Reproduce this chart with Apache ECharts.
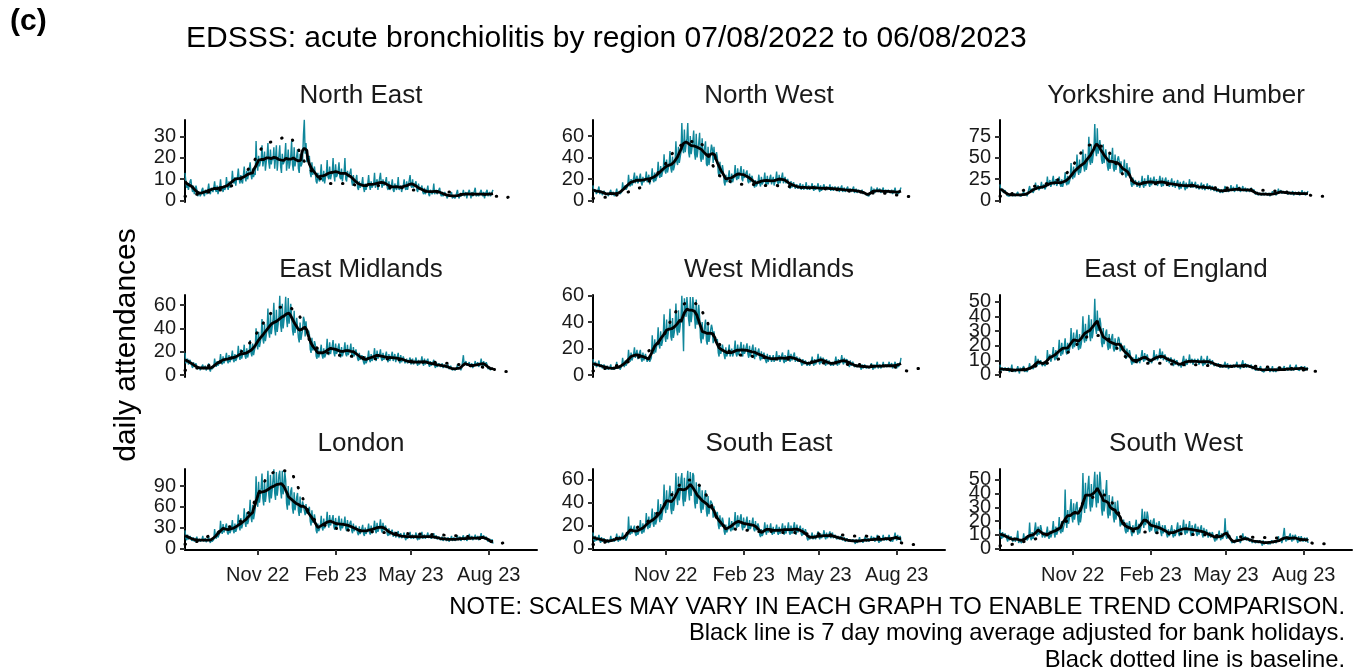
<!DOCTYPE html>
<html><head><meta charset="utf-8">
<script src="https://cdn.jsdelivr.net/npm/echarts@6/dist/echarts.min.js"></script>
<style>html,body{margin:0;padding:0;background:#fff}#c{width:1354px;height:669px}</style>
</head><body><div id="c"></div>
<script>
// ---------------- DATA ----------------
const regions = ['North East','North West','Yorkshire and Humber','East Midlands','West Midlands','East of England','London','South East','South West'];
const startDate = '2022-08-07';           // first daily value; baseline values are weekly from the same date
const tickDates = ['2022-11-01','2023-02-01','2023-05-01','2023-08-01'];
const tickLabels = ['Nov 22','Feb 23','May 23','Aug 23'];

const northEast = [13,9,6,8,5,7,9,10,6,4,7,3,5,7,5,2,3,4,2,3,5,6,3,2,5,4,3,5,
8,4,3,6,5,4,6,9,5,4,7,3,5,6,10,5,6,4,7,5,6,11,7,5,9,6,7,8,
14,9,8,11,7,10,11,15,10,8,12,9,8,12,16,11,9,14,10,12,12,18,12,10,15,11,13,12,
28,17,14,21,16,18,19,26,16,19,23,14,18,21,27,18,15,24,17,20,19,25,15,20,26,14,19,21,
26,16,13,22,17,18,21,27,14,18,24,15,17,21,28,17,14,25,16,19,21,24,15,13,22,16,17,19,
31,38,22,27,18,20,19,21,13,11,18,12,14,16,16,9,8,13,10,9,12,17,10,9,14,8,11,12,
19,11,10,16,10,12,13,20,12,9,17,11,12,14,18,11,10,15,9,12,13,20,10,9,14,11,11,13,
15,9,7,12,8,9,10,12,6,5,9,6,7,8,11,6,4,8,5,7,8,12,7,5,9,6,6,8,
13,6,6,10,5,8,8,13,8,6,10,7,7,9,11,6,5,9,5,6,7,10,5,4,8,6,5,7,
11,5,5,7,4,6,7,10,6,5,9,5,7,7,12,7,6,10,6,7,8,9,5,4,8,5,5,6,
7,4,3,6,3,4,5,7,3,2,5,4,3,4,8,3,4,5,3,4,5,6,3,2,4,2,3,4,
4,2,1,3,2,2,3,4,1,2,2,1,2,2,5,2,1,3,2,2,3,5,2,3,4,1,3,3,
5,3,1,4,2,3,3,6,2,2,3,2,3,3,5,3,2,4,1,3,3,5,2,2,4,2,3,3,5];

const northWest = [14,8,7,10,6,8,10,13,6,7,9,5,7,9,9,5,4,7,4,6,7,10,5,6,8,4,5,7,
11,6,5,8,6,5,8,17,10,9,14,10,11,13,24,15,13,20,14,16,17,26,16,15,23,16,18,19,
25,17,14,22,17,18,20,27,17,16,24,15,19,22,30,19,17,26,18,21,23,36,24,21,32,22,26,28,
43,28,25,38,26,30,34,46,30,26,41,28,31,36,55,36,33,50,35,40,45,72,48,44,66,45,52,58,
72,45,40,60,43,49,55,65,44,38,62,40,47,54,63,40,36,58,38,44,50,55,34,32,50,33,38,45,
52,48,35,50,38,40,45,40,26,22,36,25,28,33,27,17,14,24,17,19,22,28,18,16,25,17,20,23,
33,22,19,30,20,24,27,32,20,18,29,21,22,26,28,18,16,25,17,20,23,22,14,12,19,13,15,17,
24,16,13,22,15,17,19,26,16,14,23,15,18,21,24,15,14,22,14,17,20,27,17,15,24,16,19,22,
26,16,15,22,16,18,20,20,13,11,18,12,14,17,18,11,10,15,11,12,14,16,10,9,15,10,11,13,
17,10,9,14,10,11,13,16,11,9,14,10,11,13,16,10,8,14,9,11,12,15,10,9,13,10,11,12,
15,9,8,13,9,10,13,14,9,8,13,8,10,12,14,8,7,12,8,10,11,13,8,7,11,8,9,11,
13,7,7,11,7,8,10,11,7,6,10,6,8,8,8,5,4,6,4,5,7,13,8,6,11,7,8,10,
12,8,7,11,7,8,10,12,7,6,10,7,8,10,11,7,6,10,6,7,9,12,7,5,9,6,7,10,12];

const yorkshireHumber = [19,11,9,14,9,10,12,11,6,5,8,5,6,8,10,5,5,8,5,6,7,10,6,4,8,5,5,8,
11,6,5,9,5,6,7,17,11,9,14,9,11,13,21,13,11,18,12,14,16,22,14,12,19,13,15,17,
28,17,15,24,16,19,21,29,18,16,25,17,20,22,28,19,16,25,16,20,23,33,21,18,29,19,22,26,
44,29,25,40,27,31,35,54,35,30,48,32,38,43,60,40,34,55,36,42,48,75,47,42,66,44,52,59,
90,60,52,85,55,63,71,72,48,43,66,44,52,60,60,40,35,56,37,44,50,62,38,34,54,36,42,49,
52,45,32,46,33,35,37,48,31,27,44,29,34,39,30,19,16,27,18,20,24,26,16,14,23,15,18,21,
29,18,15,26,17,19,23,30,19,16,27,18,20,24,28,18,16,25,17,20,23,29,20,16,27,17,21,24,
27,17,15,24,16,19,22,26,16,14,23,15,18,21,24,16,13,22,14,17,20,23,15,12,21,14,16,18,
25,15,13,22,15,17,19,22,14,12,19,13,15,17,21,13,12,19,12,14,17,20,13,11,18,12,14,17,
18,11,10,16,10,12,14,15,9,8,13,9,10,13,17,10,9,14,10,11,13,18,11,10,16,10,12,14,
19,11,9,16,10,12,14,17,11,9,15,10,12,14,16,10,9,15,10,11,13,11,7,6,10,6,7,9,
11,6,5,9,6,7,9,10,6,5,9,5,6,8,11,7,6,10,6,7,9,14,9,7,12,8,9,11,
13,8,6,11,7,8,10,12,7,6,11,6,8,10,11,7,6,10,6,7,9,12,7,5,10,6,7,9,11];

const eastMidlands = [19,10,9,14,9,10,13,14,8,6,11,7,7,10,9,5,4,7,4,6,7,9,5,4,8,4,5,7,
10,5,3,7,5,5,7,14,9,7,12,8,9,11,18,11,9,16,10,12,15,19,12,10,17,11,13,16,
21,13,11,18,12,14,16,25,16,13,22,14,17,19,26,16,14,23,15,18,21,30,19,16,27,17,21,24,
40,26,22,37,24,28,33,48,31,27,44,29,34,39,57,37,32,52,35,41,47,62,40,34,56,37,43,50,
68,43,37,61,40,47,54,67,48,41,66,44,51,61,60,39,34,55,36,42,49,50,32,28,45,30,35,39,
50,47,33,46,36,37,38,35,22,19,32,21,24,29,26,16,14,23,15,18,21,26,17,14,23,15,17,21,
31,20,17,28,18,22,25,30,19,16,27,18,20,24,27,17,15,24,16,19,22,28,18,16,26,17,20,22,
27,17,15,24,16,19,22,22,14,12,19,13,15,17,18,11,9,16,10,12,15,21,13,11,18,12,14,16,
23,15,12,21,14,16,18,22,14,12,19,13,15,17,20,13,11,18,12,14,17,20,12,11,18,11,14,16,
19,12,10,17,11,13,16,17,10,9,14,10,11,13,15,9,8,14,9,10,12,15,10,8,13,9,10,12,
16,10,8,14,9,11,12,14,9,7,12,8,9,11,13,8,6,11,7,8,10,11,7,6,10,6,7,9,
10,6,5,9,5,6,8,7,4,3,6,4,5,6,9,5,4,7,4,6,7,17,8,7,12,8,9,9,
11,7,6,10,6,7,9,12,8,7,11,7,8,10,14,9,7,12,8,9,11,9,5,4,7,4,6,7,5];

const westMidlands = [12,7,6,10,6,7,8,11,6,5,8,5,6,8,9,4,4,7,4,5,6,8,4,3,6,4,4,6,
10,5,4,7,4,5,7,13,8,6,11,7,8,10,19,12,10,17,11,13,16,21,13,12,19,12,14,17,
19,12,10,17,11,13,16,17,10,9,14,10,11,13,30,19,16,27,17,21,24,36,23,20,33,22,25,30,
46,29,25,42,27,32,37,50,29,26,43,28,32,37,54,34,30,49,32,37,44,60,40,18,58,50,44,59,
60,42,37,59,40,46,59,58,44,35,57,38,44,53,44,28,24,40,27,31,37,42,26,23,38,25,29,34,
38,35,24,33,26,27,27,27,17,14,24,16,19,23,23,15,12,21,14,16,18,23,14,13,20,14,16,19,
26,16,14,23,15,18,21,25,16,14,23,16,18,21,24,16,13,22,14,17,20,23,15,12,21,14,16,18,
20,13,11,18,12,14,17,18,11,9,16,10,12,15,16,10,9,15,10,11,13,18,11,10,15,10,12,15,
17,11,9,15,10,12,14,19,12,10,16,11,12,15,17,10,9,14,10,11,13,14,9,7,12,8,9,11,
12,7,6,10,7,8,10,14,9,7,12,8,9,11,16,10,8,14,9,11,13,14,9,7,12,8,9,11,
12,7,6,10,7,8,10,14,9,7,12,8,9,11,15,10,8,13,9,10,12,13,8,6,11,7,8,10,
10,6,5,8,6,6,8,9,6,4,8,5,6,8,9,5,4,7,5,5,7,9,6,4,8,5,6,8,
10,5,5,8,5,6,7,10,6,5,8,6,6,8,10,6,5,9,5,6,8,10,7,5,9,6,7,9,13];

const eastOfEngland = [7,3,2,5,3,3,5,6,3,2,5,2,3,4,7,2,2,4,2,3,4,6,3,1,5,3,2,4,
6,2,3,4,2,3,5,8,4,3,6,4,4,6,13,8,6,11,7,8,10,11,6,5,9,6,7,8,
17,10,9,14,9,11,14,19,12,10,17,11,13,16,24,16,13,22,14,17,20,25,16,14,22,15,17,20,
32,21,18,29,19,22,27,31,20,17,28,18,21,26,40,25,22,35,23,27,31,41,27,23,38,25,29,34,
52,32,28,44,30,34,39,35,22,19,32,21,24,29,31,20,17,28,18,21,26,28,18,16,25,17,20,23,
26,24,16,22,17,18,17,20,13,11,18,12,14,17,14,9,7,12,8,9,11,14,8,7,12,8,10,11,
17,11,9,15,10,12,14,13,8,7,11,8,9,11,17,10,9,14,10,11,13,18,11,10,16,10,12,14,
15,9,8,12,8,10,12,13,8,6,11,7,8,10,10,6,5,8,5,7,8,13,8,6,11,7,8,10,
14,8,7,11,7,9,11,12,8,7,11,7,8,10,13,8,6,11,7,8,10,13,7,7,11,7,8,10,
10,6,5,8,6,6,8,9,5,4,7,5,5,7,9,5,4,8,4,5,7,8,5,4,7,5,6,7,
9,5,4,7,4,6,7,10,5,5,8,5,6,7,8,5,4,7,4,5,6,6,3,3,5,3,4,4,
6,3,2,4,2,3,5,5,3,2,5,2,3,4,6,2,3,4,2,3,5,5,3,2,5,3,2,4,
6,3,3,5,3,3,5,7,3,2,5,3,4,4,7,4,3,5,3,4,6,7,3,3,6,3,4,5,4];

const london = [26,15,12,20,13,15,18,19,11,9,16,10,12,14,17,10,9,14,10,11,13,18,10,8,15,9,11,13,
17,11,8,14,10,11,13,28,17,14,24,16,19,22,40,25,21,35,23,27,32,36,23,20,33,22,25,30,
41,26,22,36,24,28,33,49,31,26,44,29,34,39,58,37,31,52,35,40,48,70,45,38,63,42,49,57,
104,70,60,96,66,76,88,108,72,62,98,67,78,89,112,77,66,106,72,84,99,114,80,70,110,76,88,106,
112,84,72,112,78,90,110,98,65,56,90,62,71,83,88,58,50,81,55,63,74,80,54,47,75,51,59,68,
70,66,48,64,50,52,56,60,39,33,55,37,42,49,40,26,22,36,25,28,33,47,30,26,43,29,33,37,
53,35,30,48,33,38,43,48,31,27,44,30,34,38,47,30,26,43,29,33,37,46,29,25,41,28,32,37,
40,26,22,36,25,28,33,35,22,19,32,21,24,29,34,21,18,30,21,24,27,36,23,20,33,22,25,30,
40,26,22,37,24,28,33,42,27,23,37,26,29,33,33,21,18,29,19,23,25,27,17,15,24,16,19,22,
25,15,13,22,15,17,19,23,15,12,21,14,16,18,24,14,13,20,14,16,18,23,15,12,21,13,16,19,
24,14,12,20,14,16,19,23,15,13,20,14,16,18,22,14,12,19,13,15,17,19,12,10,17,11,13,16,
18,11,10,16,10,12,14,18,11,9,16,11,12,14,19,12,10,17,11,13,16,19,12,11,17,11,13,15,
21,13,11,18,12,14,16,20,13,11,18,12,14,17,22,14,12,19,13,15,17,17,10,9,14,10,11,13,7];

const southEast = [14,8,6,11,7,8,9,12,7,5,10,6,7,9,10,5,4,8,5,6,7,11,6,5,9,6,7,8,
13,8,6,11,7,8,10,14,8,7,11,7,9,11,28,14,12,20,13,16,16,20,13,11,18,12,14,17,
25,15,13,22,14,17,20,31,20,17,28,18,21,26,35,22,19,32,21,24,29,43,28,23,39,25,30,36,
56,36,31,51,34,39,47,55,35,30,50,33,38,46,66,45,38,63,42,49,61,66,44,37,62,41,48,59,
68,50,42,67,46,54,66,64,41,35,58,39,45,54,56,36,31,51,34,39,47,51,33,28,46,30,36,42,
42,39,27,37,28,29,29,32,21,17,29,19,23,27,23,15,12,21,14,16,18,27,17,15,24,16,19,22,
32,21,18,29,19,22,27,30,19,16,27,18,20,24,28,18,16,25,17,20,23,27,17,15,24,16,19,22,
19,12,10,17,11,13,16,23,15,12,21,14,16,18,22,14,12,19,13,15,17,21,14,12,19,13,15,18,
22,14,12,20,13,16,18,23,14,12,20,13,15,19,23,15,12,21,14,16,18,20,13,11,18,12,14,17,
14,9,7,12,8,9,11,14,8,7,12,8,10,11,15,10,8,13,9,10,12,16,10,8,14,9,11,12,
15,9,8,14,9,10,12,13,8,7,11,8,9,11,11,7,6,10,6,7,9,10,6,5,8,6,6,8,
9,6,4,8,5,6,7,10,6,5,8,5,7,8,11,6,5,9,6,7,8,11,7,6,10,6,7,9,
12,7,5,10,6,7,9,12,7,6,10,7,8,10,12,8,6,10,6,8,10,14,9,7,12,8,9,11,6];

const southWest = [14,9,7,12,8,9,11,12,7,5,10,6,7,9,9,5,4,8,5,6,8,13,4,3,7,4,5,6,
11,6,5,9,6,7,8,19,8,6,12,7,9,9,19,11,9,16,10,13,17,14,8,7,12,8,9,12,
16,9,7,13,8,10,14,20,11,8,16,10,12,14,23,13,11,20,12,15,18,43,20,15,28,18,22,22,
36,23,19,33,21,25,32,34,21,17,30,19,23,31,55,32,26,48,29,37,46,53,33,27,47,30,36,47,
56,37,30,54,33,42,56,48,29,24,43,27,32,42,50,26,22,39,24,30,33,38,23,19,34,21,26,35,
27,25,16,23,17,18,21,22,13,11,19,12,15,20,19,12,9,17,11,13,17,21,13,10,18,11,14,18,
29,19,15,27,17,20,27,23,14,12,21,13,16,20,22,13,11,19,12,15,20,19,12,9,17,11,13,17,
16,10,8,14,9,11,12,17,10,8,14,9,11,15,19,11,9,17,10,13,16,21,12,10,18,11,13,16,
20,12,9,17,11,13,16,18,11,9,16,10,12,15,17,10,8,15,9,11,14,14,8,7,12,8,9,12,
11,7,5,10,6,7,10,13,8,6,11,7,8,10,22,9,7,13,8,10,8,7,4,3,6,4,5,6,
9,5,4,7,4,6,7,11,6,5,9,6,7,8,9,5,4,7,4,6,7,7,4,3,6,4,5,6,
7,4,2,6,3,4,5,6,4,3,5,3,4,6,7,4,3,6,4,5,6,9,5,4,7,4,6,7,
15,7,5,9,6,7,7,11,7,5,10,6,7,10,10,6,4,9,5,6,9,9,5,4,8,5,6,8,4];

// weekly baseline values (from startDate, one per week)
const northEastBaseline = [2,2,3,3,4,5,5,6,7,9,12,16,20,25,27,28,29,30,29,25,19,15,12,10,8,8,8,8,8,7,7,7,7,7,6,6,6,6,5,5,5,4,4,4,4,4,3,3,3,3,3,3,2,2,1,2];
const northWestBaseline = [2,2,3,3,5,6,8,10,12,16,20,26,32,41,48,52,55,55,55,48,35,25,20,18,16,15,15,15,14,14,14,14,13,13,13,12,12,12,11,11,10,10,10,9,8,8,8,7,7,7,6,5,5,4,3,3];
const yorkshireHumberBaseline = [5,6,8,10,12,15,17,18,20,22,25,30,38,48,60,65,66,64,62,50,38,28,24,22,21,20,20,19,19,18,18,18,17,17,16,16,15,15,15,14,14,14,13,13,12,12,11,11,10,10,9,8,7,5,5,5];
const eastMidlandsBaseline = [4,5,6,7,8,10,11,13,15,18,22,28,35,43,50,56,58,59,57,53,45,30,24,21,19,18,17,17,16,16,15,15,14,14,14,13,13,13,12,12,11,11,11,11,10,10,9,9,8,8,7,6,5,4,3,3];
const westMidlandsBaseline = [3,4,5,6,7,9,10,12,14,17,20,24,30,40,48,53,55,55,52,43,33,25,20,18,16,15,15,14,14,13,13,12,12,12,11,11,10,10,10,9,9,9,9,8,8,8,8,7,7,7,6,6,5,3,4,5];
const eastOfEnglandBaseline = [2,2,3,3,4,5,6,7,8,10,11,14,17,21,24,27,27,27,26,22,17,13,10,9,8,8,8,8,7.5,7.5,7,7,7,7,7,6.5,6.5,6.5,6,6,6,6,6,6,5.5,5.5,5,5,4.5,4.5,4,3.5,3,2.5,2.5,3];
const londonBaseline = [6,8,10,14,18,22,25,29,33,38,42,55,72,90,105,110,112,112,110,90,70,50,40,36,32,30,28,27,26,25,25,24,24,23,23,22,22,22,21,21,21,20,20,20,19,19,18,18,17,16,14,12,9,6,9,12];
const southEastBaseline = [3.5,4.5,5.5,7,9,11,14,17,20,23,26,32,38,45,52,58,60,60,55,48,38,25,20,18,17,16,16,15,15,15,15,14,14,14,14,13,13,13,13,12,12,12,12,11,11,11,11,10,10,10,8,6,5,4,3.5,3.5];
const southWestBaseline = [2,2.5,3,4,5,6,7,8.5,10,12,15,19,23,28,33,36,38,39,39,33,26,18,13,12.5,12,12,11.5,11.5,11,11,11,10.5,10.5,10,10,10,9.5,9.5,9,9,8.5,8.5,8.5,8,8,8,8,7.5,7.5,7.5,7,6,5,3.5,3.5,3.5];

// y tick labels per panel
const northEastTicks = [0,10,20,30];
const northWestTicks = [0,20,40,60];
const yorkshireHumberTicks = [0,25,50,75];
const eastMidlandsTicks = [0,20,40,60];
const westMidlandsTicks = [0,20,40,60];
const eastOfEnglandTicks = [0,10,20,30,40,50];
const londonTicks = [0,30,60,90];
const southEastTicks = [0,20,40,60];
const southWestTicks = [0,10,20,30,40,50];

// ---------------- LAYOUT / STYLE ----------------
const dailySets = [northEast,northWest,yorkshireHumber,eastMidlands,westMidlands,eastOfEngland,london,southEast,southWest];
const baselineSets = [northEastBaseline,northWestBaseline,yorkshireHumberBaseline,eastMidlandsBaseline,westMidlandsBaseline,eastOfEnglandBaseline,londonBaseline,southEastBaseline,southWestBaseline];
const tickSets = [northEastTicks,northWestTicks,yorkshireHumberTicks,eastMidlandsTicks,westMidlandsTicks,eastOfEnglandTicks,londonTicks,southEastTicks,southWestTicks];
const yRanges = [[-0.7,37.85],[-1.4,74.9],[-1.8,94.6],[-1.7,68.6],[-1.5,60.5],[-1.4,54.6],[-2.2,114.5],[-1.3,69.6],[-1.1,58]];

const FONT = '"Liberation Sans", Arial, Helvetica, sans-serif';
const DAY = 86400000;
const toMs = s => Date.parse(s + 'T00:00:00Z');
const t0 = toMs(startDate);
const xMin = t0, xMax = toMs('2023-09-27');
const tickTimes = tickDates.map(toMs);
const colLeft = [185, 593, 1000], colWidth = 352;
const rowTop = [120, 295, 469], rowBottom = [202, 377, 550];
const titleY = [96, 270, 444];
const TEAL = '#10879b';

function movingAverage(arr) {
  return arr.map((_, i) => {
    let s = 0, n = 0;
    for (let k = i - 3; k <= i + 3; k++) if (k >= 0 && k < arr.length) { s += arr[k]; n++; }
    return s / n;
  });
}

const yLabelStyle = { margin: 9, fontFamily: FONT, fontSize: 20, color: '#1a1a1a',
  showMinLabel: true, showMaxLabel: true, hideOverlap: false, formatter: v => String(Math.round(v)) };

const grids = [], xAxes = [], yAxes = [], series = [], graphics = [];
regions.forEach((name, idx) => {
  const r = Math.floor(idx / 3), c = idx % 3;
  const bottomRow = r === 2;
  grids.push({ left: colLeft[c], top: rowTop[r], width: colWidth, height: rowBottom[r] - rowTop[r] });
  xAxes.push({
    gridIndex: idx, type: 'value', min: xMin, max: xMax, show: bottomRow,
    splitLine: { show: false },
    axisLine: { show: true, onZero: false, lineStyle: { color: '#000', width: 2 } },
    axisTick: { show: true, length: 5, customValues: tickTimes, lineStyle: { color: '#333', width: 2 } },
    axisLabel: { show: true, customValues: tickTimes, margin: 15, fontFamily: FONT, fontSize: 20, color: '#1a1a1a',
      showMinLabel: true, showMaxLabel: true, hideOverlap: false,
      formatter: v => { let b = 0; tickTimes.forEach((t, j) => { if (Math.abs(t - v) < Math.abs(tickTimes[b] - v)) b = j; }); return tickLabels[b]; } }
  });
  const ticks = tickSets[idx];
  const evenTicks = ticks.filter((_, j) => j % 2 === 0), oddTicks = ticks.filter((_, j) => j % 2 === 1);
  // main y axis: line, all ticks, every other label
  yAxes.push({
    gridIndex: idx, type: 'value', min: yRanges[idx][0], max: yRanges[idx][1], position: 'left',
    splitLine: { show: false },
    axisLine: { show: true, onZero: false, lineStyle: { color: '#000', width: 2 } },
    axisTick: { show: true, length: 5, customValues: ticks, lineStyle: { color: '#333', width: 2 } },
    axisLabel: Object.assign({ show: true, customValues: evenTicks }, yLabelStyle)
  });
  // companion y axis carrying the remaining labels (so overlapping labels are all drawn, as in the reference)
  yAxes.push({
    gridIndex: idx, type: 'value', min: yRanges[idx][0], max: yRanges[idx][1], position: 'left', offset: 0,
    splitLine: { show: false }, axisLine: { show: false }, axisTick: { show: false },
    axisLabel: Object.assign({ show: oddTicks.length > 0, customValues: oddTicks.length ? oddTicks : [0] }, yLabelStyle)
  });
  const daily = dailySets[idx];
  const yi = idx * 2;
  series.push({
    type: 'line', xAxisIndex: idx, yAxisIndex: yi, showSymbol: false, symbol: 'none', silent: true,
    lineStyle: { color: TEAL, width: 1.4 }, z: 2,
    data: daily.map((v, i) => [t0 + i * DAY, v])
  });
  series.push({
    type: 'line', xAxisIndex: idx, yAxisIndex: yi, showSymbol: false, symbol: 'none', silent: true,
    lineStyle: { color: '#000', width: 3, type: [0.5, 11.5], cap: 'round' }, z: 3,
    data: baselineSets[idx].map((v, w) => [t0 + w * 7 * DAY, v])
  });
  series.push({
    type: 'line', xAxisIndex: idx, yAxisIndex: yi, showSymbol: false, symbol: 'none', silent: true,
    lineStyle: { color: '#000', width: 2.8 }, z: 4,
    data: movingAverage(daily).map((v, i) => [t0 + i * DAY, v])
  });
  graphics.push({ type: 'text', x: colLeft[c] + colWidth / 2, y: titleY[r],
    style: { text: name, font: '26px ' + FONT, fill: '#1a1a1a', textAlign: 'center', textVerticalAlign: 'middle' } });
});

graphics.push({ type: 'text', x: 10, y: 22, style: { text: '(c)', font: 'bold 30px ' + FONT, fill: '#000', textAlign: 'left', textVerticalAlign: 'middle' } });
graphics.push({ type: 'text', x: 186, y: 39, style: { text: 'EDSSS: acute bronchiolitis by region 07/08/2022 to 06/08/2023', font: '30px ' + FONT, fill: '#000', textAlign: 'left', textVerticalAlign: 'middle' } });
graphics.push({ type: 'text', x: 127, y: 345, rotation: Math.PI / 2,
  style: { text: 'daily attendances', font: '30px ' + FONT, fill: '#000', textAlign: 'center', textVerticalAlign: 'middle' } });
const notes = ['NOTE: SCALES MAY VARY IN EACH GRAPH TO ENABLE TREND COMPARISON.', 'Black line is 7 day moving average adjusted for bank holidays.', 'Black dotted line is baseline.'];
notes.forEach((t, i) => graphics.push({ type: 'text', x: 1345, y: 607 + i * 26.5,
  style: { text: t, font: '23.8px ' + FONT, fill: '#000', textAlign: 'right', textVerticalAlign: 'middle' } }));

const chart = echarts.init(document.getElementById('c'));
chart.setOption({
  animation: false,
  backgroundColor: '#fff',
  grid: grids, xAxis: xAxes, yAxis: yAxes, series: series, graphic: graphics
});
</script></body></html>
